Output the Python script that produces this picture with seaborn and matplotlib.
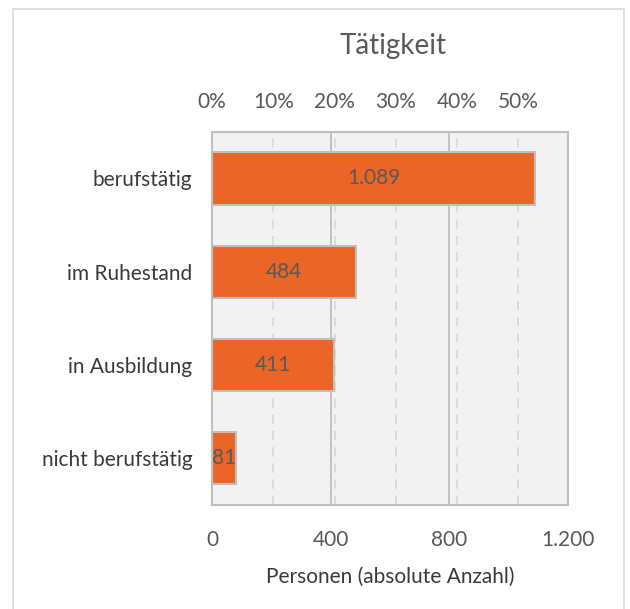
import matplotlib
matplotlib.use("Agg")
import matplotlib.pyplot as plt
import matplotlib.patches as mpatches
from matplotlib.ticker import FuncFormatter
import pandas as pd
import seaborn as sns

# ── Data ─────────────────────────────────────────────────────────────────────
categories = ["berufstätig", "im Ruhestand", "in Ausbildung", "nicht berufstätig"]
counts = [1089, 484, 411, 81]
x_ticks = [0, 400, 800, 1200]
pct_ticks = [0, 10, 20, 30, 40, 50]

total = sum(counts)
df = pd.DataFrame({"Tätigkeit": categories, "Personen": counts})

GREY = "#595959"
DARK = "#3A3A3A"
BAR = "#EA6526"
EDGE = "#BFBFBF"


def de_thousands(v, _pos=None):
    return f"{int(round(v)):,}".replace(",", ".")


sns.set_theme(style="white")
plt.rcParams["font.family"] = ["Lato", "DejaVu Sans"]

fig = plt.figure(figsize=(6.3, 6.09), dpi=100)
ax = fig.add_axes([0.3365, 0.1708, 0.565, 0.6129])
ax.set_facecolor("#F2F2F2")

# outer frame of the chart
fig.patches.append(mpatches.Rectangle((0.021, -0.02), 0.97, 1.005, transform=fig.transFigure,
                                      fill=False, edgecolor="#D9D9D9", linewidth=1.2))

# gridlines
for p in pct_ticks[1:]:
    ax.axvline(total * p / 100, color="#D9D9D9", linewidth=1.3, linestyle=(0, (5, 4)), zorder=0)
for t in x_ticks[1:-1]:
    ax.axvline(t, color=EDGE, linewidth=1.3, zorder=0)

sns.barplot(data=df, x="Personen", y="Tätigkeit", orient="h", color=BAR,
            width=0.56, edgecolor=EDGE, linewidth=1.5, saturation=1, ax=ax, zorder=2)

ax.set_xlim(0, 1200)
ax.set_ylim(3.5, -0.5)
ax.set_xticks(x_ticks)
ax.xaxis.set_major_formatter(FuncFormatter(de_thousands))
ax.tick_params(axis="x", length=0, pad=18, labelsize=15, labelcolor=GREY)
ax.tick_params(axis="y", length=0, pad=14, labelsize=15, labelcolor=DARK)
ax.set_xlabel("Personen (absolute Anzahl)", fontsize=15, color=DARK, labelpad=12)
ax.set_ylabel("")

for s in ax.spines.values():
    s.set_visible(True)
    s.set_color(EDGE)
    s.set_linewidth(1.5)

# value labels inside the bars
for i, v in enumerate(counts):
    ax.text(v / 2, i, de_thousands(v), ha="center", va="center",
            fontsize=15, color=GREY, zorder=3)

# percentage axis on top
sec = ax.secondary_xaxis("top", functions=(lambda x: x / total * 100,
                                           lambda p: p * total / 100))
sec.set_xticks(pct_ticks)
sec.xaxis.set_major_formatter(FuncFormatter(lambda v, _p: f"{int(round(v))}%"))
sec.tick_params(length=0, pad=14, labelsize=15, labelcolor=GREY)
sec.spines["top"].set_visible(False)

fig.text(0.624, 0.924, "Tätigkeit", ha="center", va="center", fontsize=20, color=GREY)

fig.savefig("out.png", dpi=100)
